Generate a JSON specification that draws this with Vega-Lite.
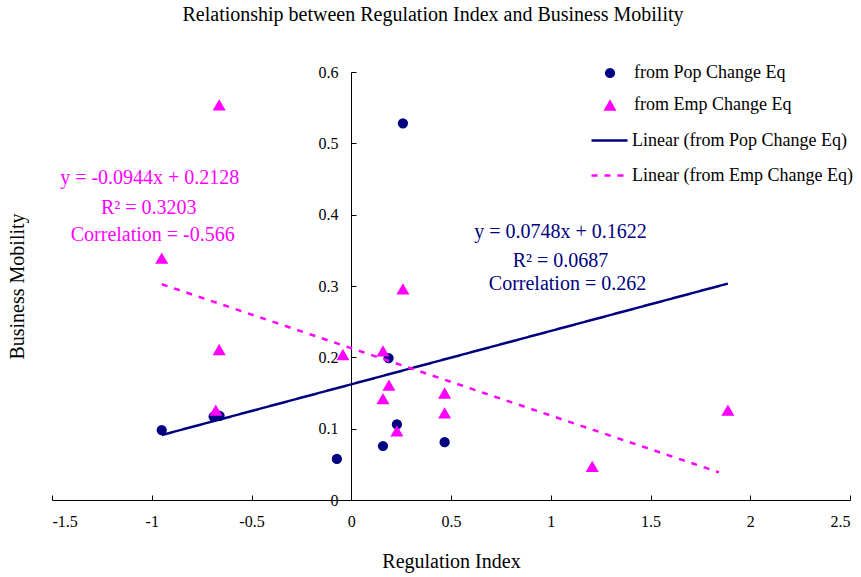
{
  "$schema": "https://vega.github.io/schema/vega-lite/v6.json",
  "width": 798,
  "height": 428,
  "autosize": "none",
  "padding": {"left": 52, "top": 72, "right": 11, "bottom": 77},
  "background": "white",
  "title": {"text": "Relationship between Regulation Index and Business Mobility", "font": "Liberation Serif", "fontSize": 20, "fontWeight": "normal", "color": "black", "anchor": "middle", "offset": 39, "dx": -18},
  "config": {"view": {"stroke": null}, "font": "Liberation Serif"},
  "datasets": {
    "points": [
      {"series": "from Pop Change Eq", "x": -0.95, "y": 0.098},
      {"series": "from Pop Change Eq", "x": -0.69, "y": 0.117},
      {"series": "from Pop Change Eq", "x": -0.66, "y": 0.118},
      {"series": "from Pop Change Eq", "x": 0.259, "y": 0.528},
      {"series": "from Pop Change Eq", "x": 0.187, "y": 0.199},
      {"series": "from Pop Change Eq", "x": -0.072, "y": 0.0575},
      {"series": "from Pop Change Eq", "x": 0.159, "y": 0.0757},
      {"series": "from Pop Change Eq", "x": 0.229, "y": 0.106},
      {"series": "from Pop Change Eq", "x": 0.468, "y": 0.081},
      {"series": "from Emp Change Eq", "x": -0.662, "y": 0.554},
      {"series": "from Emp Change Eq", "x": -0.95, "y": 0.339},
      {"series": "from Emp Change Eq", "x": -0.662, "y": 0.211},
      {"series": "from Emp Change Eq", "x": -0.679, "y": 0.126},
      {"series": "from Emp Change Eq", "x": 0.259, "y": 0.296},
      {"series": "from Emp Change Eq", "x": -0.042, "y": 0.204},
      {"series": "from Emp Change Eq", "x": 0.159, "y": 0.209},
      {"series": "from Emp Change Eq", "x": 0.189, "y": 0.161},
      {"series": "from Emp Change Eq", "x": 0.159, "y": 0.142},
      {"series": "from Emp Change Eq", "x": 0.229, "y": 0.097},
      {"series": "from Emp Change Eq", "x": 0.468, "y": 0.150},
      {"series": "from Emp Change Eq", "x": 0.468, "y": 0.122},
      {"series": "from Emp Change Eq", "x": 1.208, "y": 0.047},
      {"series": "from Emp Change Eq", "x": 1.888, "y": 0.126}
    ],
    "lines": [
      {"series": "Linear (from Pop Change Eq)", "x": -0.95, "y": 0.0911},
      {"series": "Linear (from Pop Change Eq)", "x": 1.888, "y": 0.3034},
      {"series": "Linear (from Emp Change Eq)", "x": -0.95, "y": 0.3025},
      {"series": "Linear (from Emp Change Eq)", "x": 1.843, "y": 0.0388}
    ],
    "notes": [
      {"grp": "emp", "text": "y = -0.0944x + 0.2128", "x": -1.01, "y": 0.4516},
      {"grp": "emp", "text": "R² = 0.3203", "x": -1.015, "y": 0.4095},
      {"grp": "emp", "text": "Correlation = -0.566", "x": -0.995, "y": 0.3717},
      {"grp": "pop", "text": "y = 0.0748x + 0.1622", "x": 1.049, "y": 0.3759},
      {"grp": "pop", "text": "R² = 0.0687", "x": 1.049, "y": 0.335},
      {"grp": "pop", "text": "Correlation = 0.262", "x": 1.084, "y": 0.303}
    ]
  },
  "layer": [
    {
      "data": {"name": "points"},
      "mark": {"type": "point", "filled": true, "opacity": 1},
      "encoding": {
        "x": {"field": "x", "type": "quantitative",
          "scale": {"domain": [-1.5, 2.5], "nice": false, "zero": false},
          "axis": {"title": "Regulation Index", "values": [-1.5, -1, -0.5, 0, 0.5, 1, 1.5, 2, 2.5], "labelExpr": "datum.value + ''", "grid": false, "domainColor": "black", "tickColor": "black", "tickSize": -5, "labelPadding": 18, "labelFontSize": 16, "labelColor": "black", "labelFont": "Liberation Serif", "titleFont": "Liberation Serif", "titleFontSize": 20, "titleFontWeight": "normal", "titleColor": "black", "titlePadding": 22}},
        "y": {"field": "y", "type": "quantitative",
          "scale": {"domain": [0, 0.6], "nice": false},
          "axis": {"title": "Business Mobility", "offset": -299, "values": [0, 0.1, 0.2, 0.3, 0.4, 0.5, 0.6], "labelExpr": "datum.value + ''", "grid": false, "domainColor": "black", "tickColor": "black", "tickSize": -5, "labelPadding": 18, "labelFontSize": 16, "labelColor": "black", "labelFont": "Liberation Serif", "titleFont": "Liberation Serif", "titleFontSize": 20, "titleFontWeight": "normal", "titleColor": "black", "titleX": -334, "titleY": 214, "titleAngle": -90, "titleAlign": "center", "titleBaseline": "middle"}},
        "color": {"field": "series", "type": "nominal",
          "scale": {"domain": ["from Pop Change Eq", "from Emp Change Eq"], "range": ["#000080", "#FF00FF"]},
          "legend": {"title": null, "orient": "none", "legendX": 549, "legendY": -8, "padding": 0, "symbolSize": 100, "labelOffset": 15, "labelFontSize": 18, "labelFont": "Liberation Serif", "labelColor": "black", "rowPadding": 14, "labelLimit": 400, "symbolStrokeWidth": 0}},
        "shape": {"field": "series", "type": "nominal",
          "scale": {"domain": ["from Pop Change Eq", "from Emp Change Eq"], "range": ["circle", "triangle-up"]}},
        "size": {"field": "series", "type": "nominal",
          "scale": {"domain": ["from Pop Change Eq", "from Emp Change Eq"], "range": [105, 170]}, "legend": null}
      }
    },
    {
      "data": {"name": "lines"},
      "mark": {"type": "line", "strokeWidth": 2.5},
      "encoding": {
        "x": {"field": "x", "type": "quantitative"},
        "y": {"field": "y", "type": "quantitative"},
        "color": {"field": "series", "type": "nominal",
          "scale": {"domain": ["Linear (from Pop Change Eq)", "Linear (from Emp Change Eq)"], "range": ["#000080", "#FF00FF"]},
          "legend": {"title": null, "orient": "none", "legendX": 538, "legendY": 49, "padding": 0, "symbolSize": 1296, "symbolStrokeWidth": 2.5, "labelOffset": 3, "labelFontSize": 18, "labelFont": "Liberation Serif", "labelColor": "black", "rowPadding": 6, "labelLimit": 400}},
        "strokeDash": {"field": "series", "type": "nominal",
          "scale": {"domain": ["Linear (from Pop Change Eq)", "Linear (from Emp Change Eq)"], "range": [[1, 0], [6, 7]]}}
      }
    },
    {
      "data": {"name": "notes"},
      "transform": [{"filter": "datum.grp == 'emp'"}],
      "mark": {"type": "text", "color": "#FF00FF", "fontSize": 20, "font": "Liberation Serif", "align": "center", "baseline": "middle"},
      "encoding": {
        "x": {"field": "x", "type": "quantitative"},
        "y": {"field": "y", "type": "quantitative"},
        "text": {"field": "text", "type": "nominal"}
      }
    },
    {
      "data": {"name": "notes"},
      "transform": [{"filter": "datum.grp == 'pop'"}],
      "mark": {"type": "text", "color": "#000080", "fontSize": 20, "font": "Liberation Serif", "align": "center", "baseline": "middle"},
      "encoding": {
        "x": {"field": "x", "type": "quantitative"},
        "y": {"field": "y", "type": "quantitative"},
        "text": {"field": "text", "type": "nominal"}
      }
    }
  ],
  "resolve": {"scale": {"color": "independent", "shape": "independent", "strokeDash": "independent", "size": "independent"}}
}
